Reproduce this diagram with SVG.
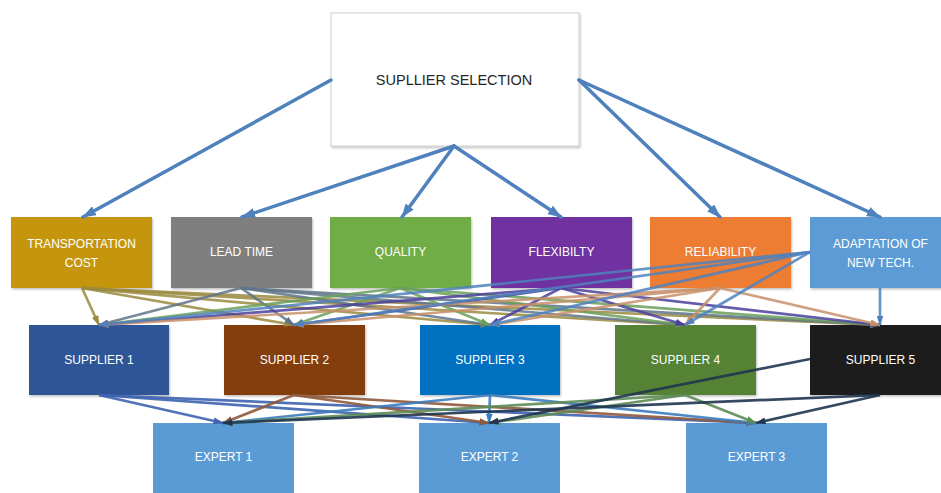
<svg xmlns="http://www.w3.org/2000/svg" width="941" height="493" viewBox="0 0 941 493">
<style>
.lbl{font-family:"Liberation Sans",Arial,sans-serif;font-size:12px;fill:#ffffff;text-anchor:middle}
.title{font-family:"Liberation Sans",Arial,sans-serif;font-size:14.5px;fill:#262626;text-anchor:middle}
.top{stroke:#4F81BD;stroke-width:3.5;fill:none;stroke-linecap:round}
.c{stroke-width:2.7;fill:none;stroke-opacity:0.85}
.e{stroke-width:2.7;fill:none;stroke-opacity:0.9}
</style>
<defs>
<filter id="sh" x="-10%" y="-10%" width="130%" height="130%">
<feDropShadow dx="1" dy="1.5" stdDeviation="1.2" flood-color="#000" flood-opacity="0.25"/>
</filter>
<marker id="mTop" markerUnits="userSpaceOnUse" markerWidth="14" markerHeight="10" refX="13" refY="5" orient="auto"><path d="M0,0 L14,5 L0,10 z" fill="#4F81BD"/></marker>
<marker id="mA" markerUnits="userSpaceOnUse" markerWidth="10" markerHeight="7" refX="9.5" refY="3.5" orient="auto"><path d="M0,0 L10,3.5 L0,7 z" fill="#4F81BD"/></marker>
<marker id="mT" markerUnits="userSpaceOnUse" markerWidth="10" markerHeight="7" refX="9.5" refY="3.5" orient="auto"><path d="M0,0 L10,3.5 L0,7 z" fill="#9A8A3E"/></marker>
<marker id="mL" markerUnits="userSpaceOnUse" markerWidth="10" markerHeight="7" refX="9.5" refY="3.5" orient="auto"><path d="M0,0 L10,3.5 L0,7 z" fill="#5F7488"/></marker>
<marker id="mQ" markerUnits="userSpaceOnUse" markerWidth="10" markerHeight="7" refX="9.5" refY="3.5" orient="auto"><path d="M0,0 L10,3.5 L0,7 z" fill="#6A9F5A"/></marker>
<marker id="mF" markerUnits="userSpaceOnUse" markerWidth="10" markerHeight="7" refX="9.5" refY="3.5" orient="auto"><path d="M0,0 L10,3.5 L0,7 z" fill="#4B3F9E"/></marker>
<marker id="mR" markerUnits="userSpaceOnUse" markerWidth="10" markerHeight="7" refX="9.5" refY="3.5" orient="auto"><path d="M0,0 L10,3.5 L0,7 z" fill="#C8906A"/></marker>
<marker id="m1" markerUnits="userSpaceOnUse" markerWidth="10" markerHeight="7" refX="9.5" refY="3.5" orient="auto"><path d="M0,0 L10,3.5 L0,7 z" fill="#3F63B0"/></marker>
<marker id="m2" markerUnits="userSpaceOnUse" markerWidth="10" markerHeight="7" refX="9.5" refY="3.5" orient="auto"><path d="M0,0 L10,3.5 L0,7 z" fill="#8E5A3C"/></marker>
<marker id="m3" markerUnits="userSpaceOnUse" markerWidth="10" markerHeight="7" refX="9.5" refY="3.5" orient="auto"><path d="M0,0 L10,3.5 L0,7 z" fill="#3C7DBE"/></marker>
<marker id="m4" markerUnits="userSpaceOnUse" markerWidth="10" markerHeight="7" refX="9.5" refY="3.5" orient="auto"><path d="M0,0 L10,3.5 L0,7 z" fill="#5E8C55"/></marker>
<marker id="m5" markerUnits="userSpaceOnUse" markerWidth="10" markerHeight="7" refX="9.5" refY="3.5" orient="auto"><path d="M0,0 L10,3.5 L0,7 z" fill="#1F3550"/></marker>
</defs>
<rect width="941" height="493" fill="#ffffff"/>

<g id="node-top">
<rect x="331" y="13" width="248" height="133" fill="#ffffff" stroke="#cfcfcf" stroke-width="1" filter="url(#sh)"/>
<text class="title" x="454" y="85">SUPLLIER SELECTION</text>
</g>

<g id="node-transport">
<rect x="11" y="217" width="141" height="71" fill="#C5960C" filter="url(#sh)"/>
<text class="lbl" x="81.5" y="248">TRANSPORTATION</text>
<text class="lbl" x="81.5" y="267">COST</text>
</g>
<g id="node-leadtime">
<rect x="171" y="217" width="141" height="71" fill="#7F7F7F" filter="url(#sh)"/>
<text class="lbl" x="241.5" y="256">LEAD TIME</text>
</g>
<g id="node-quality">
<rect x="330" y="217" width="141" height="71" fill="#70AD47" filter="url(#sh)"/>
<text class="lbl" x="400.5" y="256">QUALITY</text>
</g>
<g id="node-flex">
<rect x="491" y="217" width="141" height="71" fill="#7030A0" filter="url(#sh)"/>
<text class="lbl" x="561.5" y="256">FLEXIBILTY</text>
</g>
<g id="node-reliability">
<rect x="650" y="217" width="141" height="71" fill="#ED7D31" filter="url(#sh)"/>
<text class="lbl" x="720.5" y="256">RELIABILITY</text>
</g>
<g id="node-adaptation">
<rect x="810" y="217" width="141" height="71" fill="#5B9BD5" filter="url(#sh)"/>
<text class="lbl" x="880.5" y="248">ADAPTATION OF</text>
<text class="lbl" x="880.5" y="267">NEW TECH.</text>
</g>

<g id="node-s1">
<rect x="29" y="325" width="140" height="70" fill="#2F5597" filter="url(#sh)"/>
<text class="lbl" x="99" y="364">SUPPLIER 1</text>
</g>
<g id="node-s2">
<rect x="224" y="325" width="141" height="70" fill="#843C0C" filter="url(#sh)"/>
<text class="lbl" x="294.5" y="364">SUPPLIER 2</text>
</g>
<g id="node-s3">
<rect x="420" y="325" width="140" height="70" fill="#0070C0" filter="url(#sh)"/>
<text class="lbl" x="490" y="364">SUPPLIER 3</text>
</g>
<g id="node-s4">
<rect x="615" y="325" width="141" height="70" fill="#548235" filter="url(#sh)"/>
<text class="lbl" x="685.5" y="364">SUPPLIER 4</text>
</g>
<g id="node-s5">
<rect x="810" y="325" width="141" height="70" fill="#1C1C1C" filter="url(#sh)"/>
<text class="lbl" x="880.5" y="364">SUPPLIER 5</text>
</g>

<g id="node-e1">
<rect x="153" y="423" width="141" height="72" fill="#5B9BD5"/>
<text class="lbl" x="223.5" y="461">EXPERT 1</text>
</g>
<g id="node-e2">
<rect x="419" y="423" width="141" height="72" fill="#5B9BD5"/>
<text class="lbl" x="489.5" y="461">EXPERT 2</text>
</g>
<g id="node-e3">
<rect x="686" y="423" width="141" height="72" fill="#5B9BD5"/>
<text class="lbl" x="756.5" y="461">EXPERT 3</text>
</g>

<g id="connectors">
<line class="top" x1="331" y1="80" x2="83" y2="217" marker-end="url(#mTop)"/>
<line class="top" x1="454" y1="146" x2="242" y2="217" marker-end="url(#mTop)"/>
<line class="top" x1="454" y1="146" x2="402" y2="217" marker-end="url(#mTop)"/>
<line class="top" x1="454" y1="146" x2="561" y2="217" marker-end="url(#mTop)"/>
<line class="top" x1="579" y1="80" x2="720" y2="217" marker-end="url(#mTop)"/>
<line class="top" x1="579" y1="80" x2="880" y2="217" marker-end="url(#mTop)"/>

<g stroke="#9A8A3E" class="c">
<line x1="82" y1="288" x2="99" y2="325" marker-end="url(#mT)"/>
<line x1="82" y1="288" x2="294" y2="325" marker-end="url(#mT)"/>
<line x1="82" y1="288" x2="490" y2="325" marker-end="url(#mT)"/>
<line x1="82" y1="288" x2="685" y2="325" marker-end="url(#mT)"/>
<line x1="82" y1="288" x2="880" y2="325" marker-end="url(#mT)"/>
</g>
<g stroke="#5F7488" class="c">
<line x1="241" y1="288" x2="99" y2="325" marker-end="url(#mL)"/>
<line x1="241" y1="288" x2="294" y2="325" marker-end="url(#mL)"/>
<line x1="241" y1="288" x2="490" y2="325" marker-end="url(#mL)"/>
<line x1="241" y1="288" x2="685" y2="325" marker-end="url(#mL)"/>
<line x1="241" y1="288" x2="880" y2="325" marker-end="url(#mL)"/>
</g>
<g stroke="#6A9F5A" class="c">
<line x1="400" y1="288" x2="99" y2="325" marker-end="url(#mQ)"/>
<line x1="400" y1="288" x2="294" y2="325" marker-end="url(#mQ)"/>
<line x1="400" y1="288" x2="490" y2="325" marker-end="url(#mQ)"/>
<line x1="400" y1="288" x2="685" y2="325" marker-end="url(#mQ)"/>
<line x1="400" y1="288" x2="880" y2="325" marker-end="url(#mQ)"/>
</g>
<g stroke="#4B3F9E" class="c">
<line x1="561" y1="288" x2="99" y2="325" marker-end="url(#mF)"/>
<line x1="561" y1="288" x2="294" y2="325" marker-end="url(#mF)"/>
<line x1="561" y1="288" x2="490" y2="325" marker-end="url(#mF)"/>
<line x1="561" y1="288" x2="685" y2="325" marker-end="url(#mF)"/>
<line x1="561" y1="288" x2="880" y2="325" marker-end="url(#mF)"/>
</g>
<g stroke="#C8906A" class="c">
<line x1="720" y1="288" x2="99" y2="325" marker-end="url(#mR)"/>
<line x1="720" y1="288" x2="294" y2="325" marker-end="url(#mR)"/>
<line x1="720" y1="288" x2="490" y2="325" marker-end="url(#mR)"/>
<line x1="720" y1="288" x2="685" y2="325" marker-end="url(#mR)"/>
<line x1="720" y1="288" x2="880" y2="325" marker-end="url(#mR)"/>
</g>
<g stroke="#4F81BD" class="c">
<line x1="810" y1="252" x2="99" y2="325" marker-end="url(#mA)"/>
<line x1="810" y1="252" x2="294" y2="325" marker-end="url(#mA)"/>
<line x1="810" y1="252" x2="490" y2="325" marker-end="url(#mA)"/>
<line x1="810" y1="252" x2="685" y2="325" marker-end="url(#mA)"/>
<line x1="880" y1="288" x2="880" y2="325" marker-end="url(#mA)"/>
</g>

<g stroke="#3F63B0" class="e">
<line x1="99" y1="395" x2="223" y2="423" marker-end="url(#m1)"/>
<line x1="99" y1="395" x2="489" y2="423" marker-end="url(#m1)"/>
<line x1="99" y1="395" x2="756" y2="423" marker-end="url(#m1)"/>
</g>
<g stroke="#8E5A3C" class="e">
<line x1="294" y1="395" x2="223" y2="423" marker-end="url(#m2)"/>
<line x1="294" y1="395" x2="489" y2="423" marker-end="url(#m2)"/>
<line x1="294" y1="395" x2="756" y2="423" marker-end="url(#m2)"/>
</g>
<g stroke="#3C7DBE" class="e">
<line x1="490" y1="395" x2="223" y2="423" marker-end="url(#m3)"/>
<line x1="490" y1="395" x2="489" y2="423" marker-end="url(#m3)"/>
<line x1="490" y1="395" x2="756" y2="423" marker-end="url(#m3)"/>
</g>
<g stroke="#5E8C55" class="e">
<line x1="685" y1="395" x2="223" y2="423" marker-end="url(#m4)"/>
<line x1="685" y1="395" x2="489" y2="423" marker-end="url(#m4)"/>
<line x1="685" y1="395" x2="756" y2="423" marker-end="url(#m4)"/>
</g>
<g stroke="#1F3550" class="e">
<line x1="810" y1="359" x2="489" y2="423" marker-end="url(#m5)"/>
<line x1="880" y1="395" x2="223" y2="423" marker-end="url(#m5)"/>
<line x1="880" y1="395" x2="756" y2="423" marker-end="url(#m5)"/>
</g>
</g>
</svg>
